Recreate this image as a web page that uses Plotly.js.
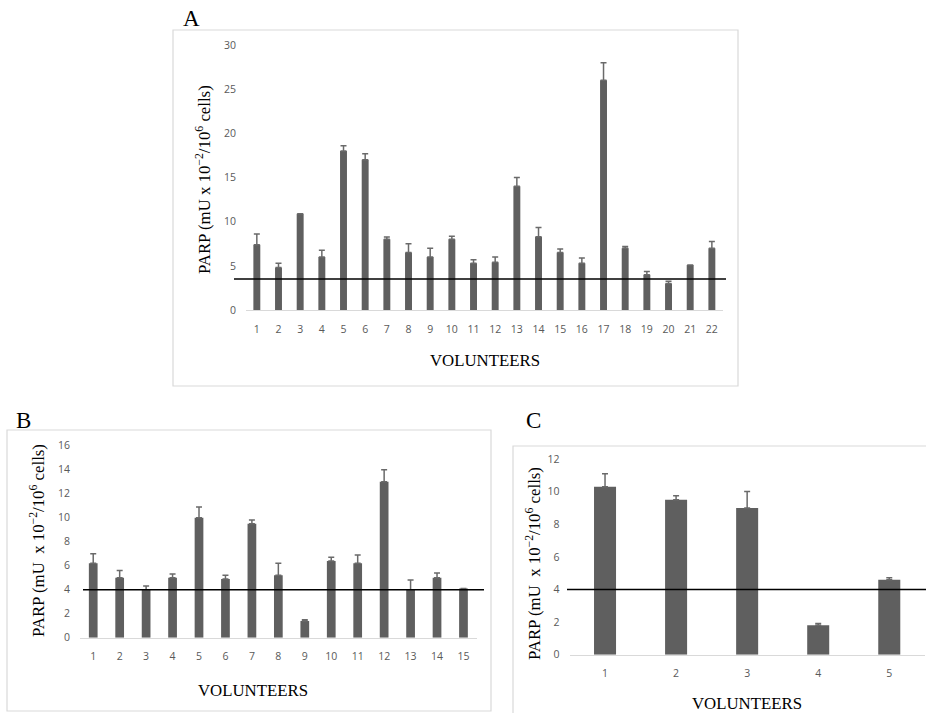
<!DOCTYPE html>
<html>
<head>
<meta charset="utf-8">
<script src="https://cdn.plot.ly/plotly-3.0.1.min.js"></script>
<style>html,body{margin:0;padding:0;background:#fff;}#chart{width:926px;height:713px;}</style>
</head>
<body>
<div id="chart"></div>
<script>
// ---- Data ----
const volunteersA = ["1","2","3","4","5","6","7","8","9","10","11","12","13","14","15","16","17","18","19","20","21","22"];
const parpA = [7.4, 4.8, 10.9, 6.0, 18.0, 17.0, 8.0, 6.5, 6.0, 8.0, 5.3, 5.4, 14.0, 8.3, 6.5, 5.3, 26.0, 7.0, 4.0, 3.0, 5.1, 7.0];
const errA  = [1.2, 0.5, 0, 0.75, 0.6, 0.7, 0.25, 1.0, 1.0, 0.35, 0.4, 0.6, 1.0, 1.05, 0.4, 0.6, 2.0, 0.2, 0.35, 0.25, 0, 0.75];
const thresholdA = 3.5;

const volunteersB = ["1","2","3","4","5","6","7","8","9","10","11","12","13","14","15"];
const parpB = [6.2, 5.0, 4.0, 5.0, 10.0, 4.9, 9.5, 5.2, 1.4, 6.4, 6.2, 13.0, 4.0, 5.0, 4.1];
const errB  = [0.8, 0.6, 0.3, 0.3, 0.9, 0.3, 0.3, 1.0, 0.1, 0.3, 0.7, 1.0, 0.8, 0.4, 0];
const thresholdB = 4;

const volunteersC = ["1","2","3","4","5"];
const parpC = [10.3, 9.5, 9.0, 1.8, 4.6];
const errC  = [0.8, 0.25, 1.0, 0.12, 0.12];
const thresholdC = 4;

const panelLabels = ["A","B","C"];
const xTitle = "VOLUNTEERS";
const yTitleA = "PARP (mU x 10<sup>−2</sup>/10<sup>6</sup> cells)";
const yTitleBC = "PARP (mU  x 10<sup>−2</sup>/10<sup>6</sup> cells)";

// ---- Helpers ----
const W = 926, H = 713;
const px = v => v / W;
const py = v => 1 - v / H;
const barColor = "#5f5f5f";
const errColor = "#6a6a6a";
const tickFont = {family: "Open Sans, Lato, sans-serif", size: 10.5, color: "#595959"};
const serif = "Liberation Serif, DejaVu Serif, serif";

function barTrace(x, y, err, xa, ya, w) {
  return {
    type: "bar", x: x, y: y, xaxis: xa, yaxis: ya, width: w,
    marker: {color: barColor},
    error_y: {type: "data", array: err, symmetric: false, arrayminus: err.map(() => 0),
              color: errColor, thickness: 1.5, width: 3},
    hoverinfo: "x+y"
  };
}

const data = [
  barTrace(volunteersA, parpA, errA, "x", "y", 0.32),
  barTrace(volunteersB, parpB, errB, "x2", "y2", 0.33),
  barTrace(volunteersC, parpC, errC, "x3", "y3", 0.31)
];

function xAxis(domain, anchor) {
  return {domain: domain, anchor: anchor, type: "category", showline: true, linecolor: "#d9d9d9",
          linewidth: 1, ticks: "", showgrid: false, zeroline: false, tickfont: tickFont,
          ticklabelstandoff: 9, fixedrange: true};
}
function yAxis(domain, anchor, range, dtick) {
  return {domain: domain, anchor: anchor, range: range, dtick: dtick, showgrid: false, zeroline: false,
          showline: false, ticks: "", tickfont: tickFont, ticklabelstandoff: 9, fixedrange: true};
}

const layout = {
  width: W, height: H,
  margin: {l: 0, r: 0, t: 0, b: 0},
  paper_bgcolor: "#fff", plot_bgcolor: "rgba(0,0,0,0)",
  showlegend: false,
  xaxis:  xAxis([px(246), px(722.7)], "y"),
  yaxis:  yAxis([py(310), py(45)], "x", [0, 30], 5),
  xaxis2: xAxis([px(80), px(476.7)], "y2"),
  yaxis2: yAxis([py(637.7), py(445.7)], "x2", [0, 16], 2),
  xaxis3: xAxis([px(569.5), px(924.8)], "y3"),
  yaxis3: yAxis([py(654.7), py(459)], "x3", [0, 12], 2),
  shapes: [
    // panel frames
    {type: "rect", xref: "paper", yref: "paper", x0: px(173), x1: px(738), y0: py(386), y1: py(30),
     line: {color: "#d9d9d9", width: 1.2}, fillcolor: "rgba(0,0,0,0)", layer: "below"},
    {type: "rect", xref: "paper", yref: "paper", x0: px(7), x1: px(491), y0: py(711), y1: py(430),
     line: {color: "#d9d9d9", width: 1.2}, fillcolor: "rgba(0,0,0,0)", layer: "below"},
    {type: "rect", xref: "paper", yref: "paper", x0: px(513), x1: 1.05, y0: -0.05, y1: py(446),
     line: {color: "#d9d9d9", width: 1.2}, fillcolor: "rgba(0,0,0,0)", layer: "below"},
    // threshold lines
    {type: "line", xref: "paper", yref: "y", x0: px(234), x1: px(726), y0: thresholdA, y1: thresholdA,
     line: {color: "#000", width: 1.5}},
    {type: "line", xref: "paper", yref: "y2", x0: px(83), x1: px(484), y0: thresholdB, y1: thresholdB,
     line: {color: "#000", width: 1.5}},
    {type: "line", xref: "paper", yref: "y3", x0: px(567), x1: 1.0, y0: thresholdC, y1: thresholdC,
     line: {color: "#000", width: 1.5}}
  ],
  annotations: [
    {text: panelLabels[0], x: px(191), y: py(18), xref: "paper", yref: "paper", showarrow: false,
     xanchor: "center", yanchor: "middle", font: {family: serif, size: 23, color: "#000"}},
    {text: panelLabels[1], x: px(23), y: py(420), xref: "paper", yref: "paper", showarrow: false,
     xanchor: "center", yanchor: "middle", font: {family: serif, size: 23, color: "#000"}},
    {text: panelLabels[2], x: px(533), y: py(420), xref: "paper", yref: "paper", showarrow: false,
     xanchor: "center", yanchor: "middle", font: {family: serif, size: 23, color: "#000"}},
    {text: xTitle, x: px(485), y: py(360), xref: "paper", yref: "paper", showarrow: false,
     xanchor: "center", yanchor: "middle", font: {family: serif, size: 16.8, color: "#000"}},
    {text: xTitle, x: px(253), y: py(690), xref: "paper", yref: "paper", showarrow: false,
     xanchor: "center", yanchor: "middle", font: {family: serif, size: 16.8, color: "#000"}},
    {text: xTitle, x: px(747), y: py(703), xref: "paper", yref: "paper", showarrow: false,
     xanchor: "center", yanchor: "middle", font: {family: serif, size: 16.8, color: "#000"}},
    {text: yTitleA, x: px(203), y: py(180), xref: "paper", yref: "paper", showarrow: false, textangle: -90,
     xanchor: "center", yanchor: "middle", font: {family: serif, size: 16.8, color: "#000"}},
    {text: yTitleBC, x: px(37), y: py(541), xref: "paper", yref: "paper", showarrow: false, textangle: -90,
     xanchor: "center", yanchor: "middle", font: {family: serif, size: 16.8, color: "#000"}},
    {text: yTitleBC, x: px(533), y: py(564), xref: "paper", yref: "paper", showarrow: false, textangle: -90,
     xanchor: "center", yanchor: "middle", font: {family: serif, size: 16.8, color: "#000"}}
  ]
};

Plotly.newPlot("chart", data, layout, {displayModeBar: false, staticPlot: true});
</script>
</body>
</html>
